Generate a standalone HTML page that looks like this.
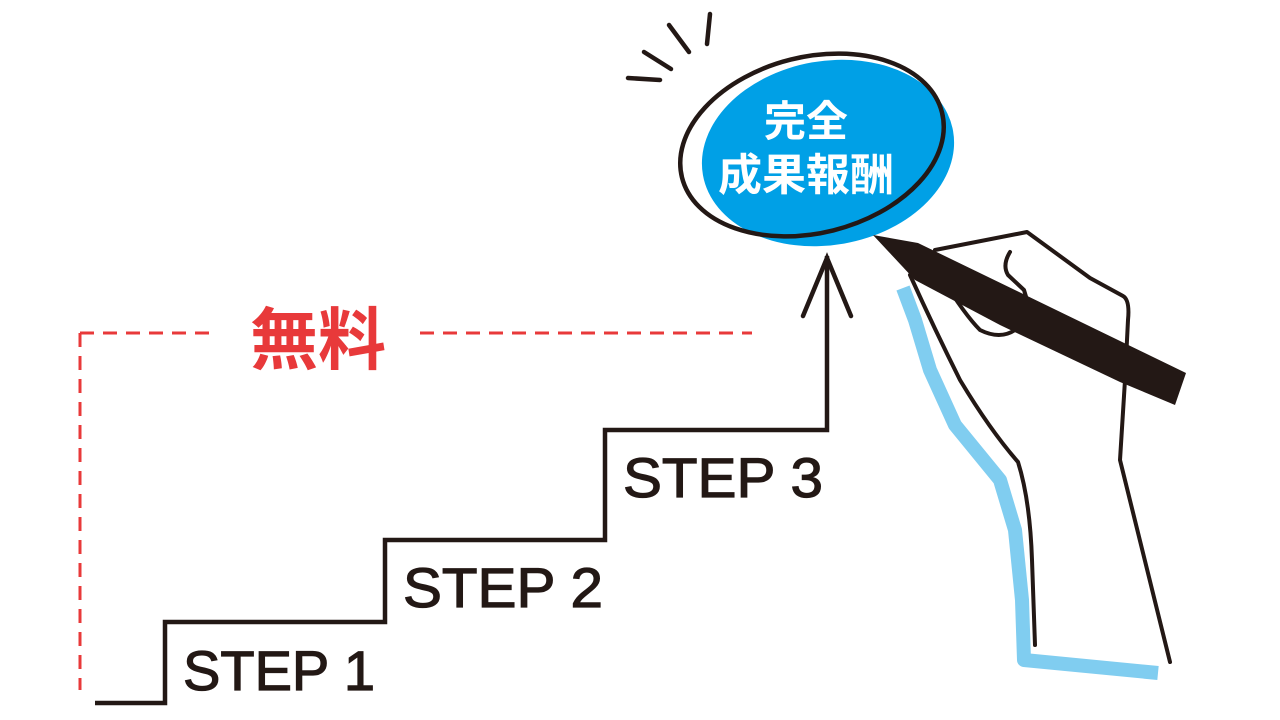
<!DOCTYPE html>
<html><head><meta charset="utf-8"><style>
html,body{margin:0;padding:0;background:#fff}
svg{display:block}
</style></head><body>
<svg width="1280" height="720" viewBox="0 0 1280 720" xmlns="http://www.w3.org/2000/svg">
<g stroke="#e8393a" stroke-width="3" fill="none" stroke-dasharray="14,9">
<line x1="80" y1="333" x2="80" y2="690"/>
<line x1="80" y1="333" x2="212" y2="333"/>
<line x1="420" y1="333" x2="752" y2="333"/>
</g>
<text x="318" y="364" font-family="'Liberation Sans','Noto Sans CJK JP',sans-serif" font-weight="bold" font-size="68" fill="#e8393a" text-anchor="middle">無料</text>
<polyline points="95,703 165,703 165,622 385,622 385,540 605,540 605,430 827,430 827,256" fill="none" stroke="#231815" stroke-width="4.5" stroke-linejoin="miter"/>
<polyline points="803,316 827,258 851,316" fill="none" stroke="#231815" stroke-width="4.5" stroke-linecap="round"/>
<g font-family="'Liberation Sans',sans-serif" font-size="56" fill="#231815" stroke="#231815" stroke-width="1.2">
<text x="183" y="690" textLength="192" lengthAdjust="spacingAndGlyphs">STEP 1</text>
<text x="403" y="607" textLength="200" lengthAdjust="spacingAndGlyphs">STEP 2</text>
<text x="623" y="497" textLength="200" lengthAdjust="spacingAndGlyphs">STEP 3</text>
</g>
<g stroke="#231815" stroke-width="4.5" stroke-linecap="round">
<line x1="628" y1="78" x2="660" y2="80"/>
<line x1="644" y1="52" x2="671" y2="69"/>
<line x1="669" y1="25" x2="689" y2="52"/>
<line x1="710" y1="14" x2="707" y2="44"/>
</g>
<ellipse cx="828" cy="153" rx="127" ry="92" transform="rotate(-10 828 153)" fill="#00a0e6"/>
<ellipse cx="812" cy="145" rx="134" ry="88" transform="rotate(-14 812 145)" fill="none" stroke="#231815" stroke-width="4.5"/>
<g font-family="'Liberation Sans','Noto Sans CJK JP',sans-serif" font-weight="bold" fill="#fff" text-anchor="middle">
<text x="806" y="136" font-size="42">完全</text>
<text x="806" y="190" font-size="44">成果報酬</text>
</g>
<polyline points="903,288 915,320 930,370 955,425 1000,480 1015,530 1022,600 1024,660 1158,673" fill="none" stroke="#80cdf0" stroke-width="14" stroke-linejoin="round"/>
<g fill="none" stroke="#231815" stroke-width="4" stroke-linecap="round" stroke-linejoin="round">
<path d="M910,275 Q935,330 960,380 Q990,430 1018,462 Q1030,500 1032,560 L1035,645"/>
<path d="M935,250 L1027,232 L1090,278 L1123,296 Q1130,300 1128,320 L1125,380 L1120,460 L1170,662"/>
<path d="M912,275 Q925,262 942,278 Q965,315 980,330 Q1000,340 1015,330"/>
<path d="M1010,252 Q1002,265 1008,275 L1024,290 L1027,300"/>
</g>
<polygon points="873,235 918,243 1186,373 1175,405 1120,382 1000,325 915,280" fill="#231815"/>
</svg>
</body></html>
